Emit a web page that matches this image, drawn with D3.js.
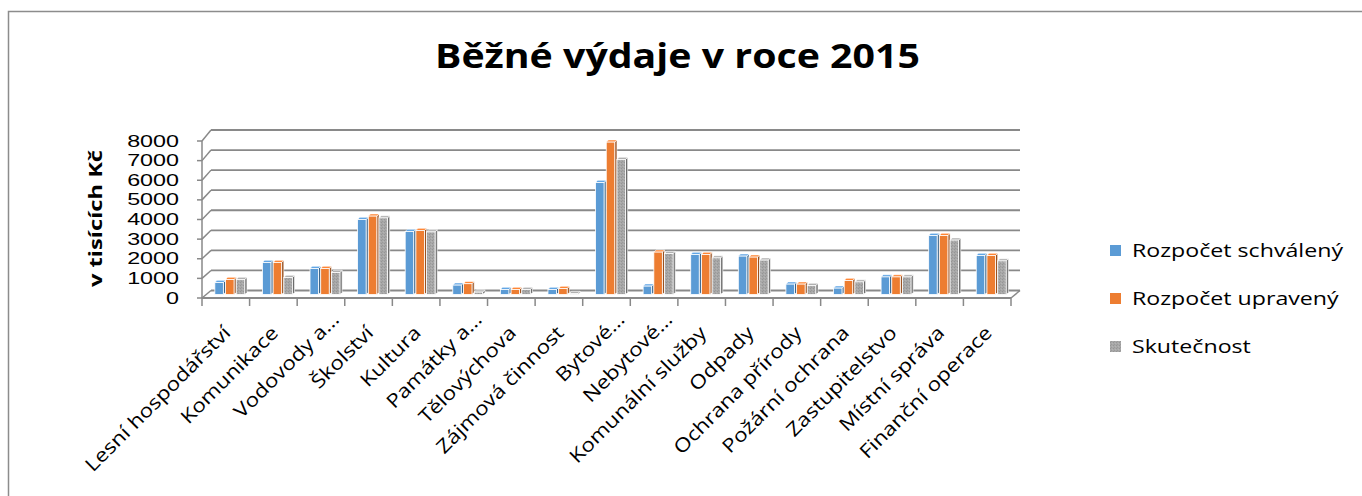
<!DOCTYPE html>
<html><head><meta charset="utf-8">
<script src="https://cdn.jsdelivr.net/npm/d3@7"></script>
<style>
body{margin:0;background:#fff}
svg{display:block}
text{font-family:"Open Sans",sans-serif;fill:#000}
</style>
</head><body>
<svg id="c" width="1362" height="496"></svg>
<script>
// ---- data ----
const categories = ["Lesní hospodářství","Komunikace","Vodovody a…","Školství","Kultura","Památky a…","Tělovýchova","Zájmová činnost","Bytové…","Nebytové…","Komunální služby","Odpady","Ochrana přírody","Požární ochrana","Zastupitelstvo","Místní správa","Finanční operace"];
const seriesNames = ["Rozpočet schválený","Rozpočet upravený","Skutečnost"];
const schvaleny  = [600,1600,1300,3750,3150,470,250,250,5600,420,2000,1920,520,320,880,2950,1950];
const upraveny   = [750,1600,1300,3920,3200,540,250,300,7620,2120,2000,1870,520,700,880,2950,1950];
const skutecnost = [750,850,1100,3830,3130,120,250,50,6750,2050,1830,1720,450,630,880,2720,1680];
const yTicks = [0,1000,2000,3000,4000,5000,6000,7000,8000];
const titleText = "Běžné výdaje v roce 2015";
const yTitle = "v tisících Kč";
const colors = ["#5B9BD5","#ED7D31","#A5A5A5"];

const seriesValues = [schvaleny, upraveny, skutecnost];

const svg = d3.select("#c");
function stretch(sel, k){
  sel.each(function(){
    const L = this.getComputedTextLength();
    d3.select(this).attr("textLength", L*k).attr("lengthAdjust","spacingAndGlyphs");
  });
}

// border
svg.append("rect").attr("x",8.5).attr("y",11.5).attr("width",1400).attr("height",600)
  .attr("fill","#fff").attr("stroke","#8c8c8c").attr("stroke-width",1.5);

// defs pattern for grey
const defs = svg.append("defs");
const pat = defs.append("pattern").attr("id","gpat").attr("patternUnits","userSpaceOnUse")
  .attr("width",3).attr("height",3);
pat.append("rect").attr("width",3).attr("height",3).attr("fill","#A8A8A8");
pat.append("rect").attr("x",0).attr("y",0).attr("width",1).attr("height",1).attr("fill","#959595");
pat.append("rect").attr("x",2).attr("y",1).attr("width",1).attr("height",1).attr("fill","#b4b4b4");
pat.append("rect").attr("x",1).attr("y",2).attr("width",1).attr("height",1).attr("fill","#9a9a9a");

// scales
const x = d3.scaleBand().domain(categories).range([202,1011]);
const yFront = d3.scaleLinear().domain([0,8000]).range([298,141]);
const yBack  = d3.scaleLinear().domain([0,8000]).range([290.5,130]);
const yBar   = d3.scaleLinear().domain([0,8000]).range([294.5,134.5]);
const DXB = 9, DXBAR = 4;
const inner = d3.scaleBand().domain(seriesNames).range([-14.95,14.95]).paddingInner(0.2056);
const gridCol = "#898989";

// back gridlines
const g = svg.append("g");
g.selectAll(".grid").data(yTicks).join("line")
  .attr("x1", x.range()[0]+DXB).attr("x2", x.range()[1]+DXB)
  .attr("y1", d=>yBack(d)).attr("y2", d=>yBack(d))
  .attr("stroke", gridCol).attr("stroke-width",1.8);
// left diagonals + ticks
g.selectAll(".diag").data(yTicks).join("line")
  .attr("x1", x.range()[0]).attr("y1", d=>yFront(d))
  .attr("x2", x.range()[0]+DXB).attr("y2", d=>yBack(d))
  .attr("stroke", gridCol).attr("stroke-width",1.5);
g.selectAll(".ytk").data(yTicks).join("line")
  .attr("x1", x.range()[0]-5).attr("x2", x.range()[0])
  .attr("y1", d=>yFront(d)).attr("y2", d=>yFront(d))
  .attr("stroke", gridCol).attr("stroke-width",1.5);
g.append("line").attr("x1",x.range()[0]).attr("x2",x.range()[0])
  .attr("y1",yFront(0)).attr("y2",yFront(8000)).attr("stroke",gridCol).attr("stroke-width",1.5);

// bars
const bars = svg.append("g");
categories.forEach((c,i)=>{
  seriesNames.forEach((s,j)=>{
    const v = seriesValues[j][i];
    const xb = x(c) + x.bandwidth()/2 + DXBAR + inner(s);
    const w = inner.bandwidth();
    const yt = yBar(v), y0 = yBar(0);
    const d = 2.2;
    const base = d3.color(colors[j]);
    const fillFront = j===2 ? "url(#gpat)" : colors[j];
    const gb = bars.append("g");
    gb.append("path").attr("d",`M${xb+w},${yt}L${xb+w+d},${yt-d}L${xb+w+d},${y0-d}L${xb+w},${y0}Z`)
      .attr("fill", base.darker(1.2)).attr("stroke","#fff").attr("stroke-width",0.6);
    gb.append("path").attr("d",`M${xb},${yt}L${xb+d},${yt-d}L${xb+w+d},${yt-d}L${xb+w},${yt}Z`)
      .attr("fill", base.brighter(0.2)).attr("stroke","#fff").attr("stroke-width",0.6);
    gb.append("rect").attr("x",xb).attr("y",yt).attr("width",w).attr("height",Math.max(0,y0-yt))
      .attr("fill",fillFront).attr("stroke","#fff").attr("stroke-width",0.8);
  });
});

// front floor / category axis
const fa = svg.append("g");
fa.append("line").attr("x1",x.range()[0]).attr("x2",x.range()[1])
  .attr("y1",yFront(0)).attr("y2",yFront(0)).attr("stroke",gridCol).attr("stroke-width",1.8);
fa.append("line").attr("x1",x.range()[1]).attr("y1",yFront(0))
  .attr("x2",x.range()[1]+DXB).attr("y2",yBack(0)).attr("stroke",gridCol).attr("stroke-width",1.5);
const bounds = categories.map(c=>x(c)).concat([x.range()[1]]);
fa.selectAll(".ctk").data(bounds).join("line")
  .attr("x1",d=>d).attr("x2",d=>d).attr("y1",yFront(0)).attr("y2",yFront(0)+8)
  .attr("stroke",gridCol).attr("stroke-width",1.5);

// y tick labels
const yl = svg.append("g").selectAll("text").data(yTicks).join("text")
  .attr("x",179).attr("y",d=>yFront(d)).attr("text-anchor","end")
  .attr("dominant-baseline","central")
  .style("font-family","'Liberation Sans',Arial,sans-serif").style("font-size","17px").text(d=>d);
stretch(yl, 1.37);

// category labels
const cl = svg.append("g").selectAll("text").data(categories).join("text")
  .attr("text-anchor","end").style("font-size","19px")
  .attr("transform", d=>{
    const tr = d.endsWith("…") ? 19 : 0;
    const px = x(d)+x.bandwidth()/2 + 6 + tr*0.7071;
    const py = 334 - tr*0.7071;
    return `translate(${px},${py}) rotate(-45)`;
  }).text(d=>d);
stretch(cl, 1.18);

// title
svg.append("text").attr("x",677.5).attr("y",68).attr("text-anchor","middle")
  .style("font-size","34px").style("font-weight","700").text(titleText)
  .attr("textLength",485).attr("lengthAdjust","spacingAndGlyphs");

// y axis title
svg.append("text").attr("transform","translate(102,218.5) rotate(-90)").attr("text-anchor","middle")
  .style("font-size","18px").style("font-weight","700").text(yTitle)
  .attr("textLength",137).attr("lengthAdjust","spacingAndGlyphs");

// legend
const legBase = [257,305,353];
const lg = svg.append("g");
seriesNames.forEach((s,j)=>{
  lg.append("rect").attr("x",1110).attr("y",legBase[j]-12).attr("width",11).attr("height",11)
    .attr("fill", j===2 ? "url(#gpat)" : colors[j]);
});
const lt = lg.selectAll("text").data(seriesNames).join("text")
  .attr("x",1132).attr("y",(d,j)=>legBase[j]).style("font-size","19px").text(d=>d);
const natural0 = lt.node().getComputedTextLength();
stretch(lt, 211/natural0);
</script>
</body></html>
